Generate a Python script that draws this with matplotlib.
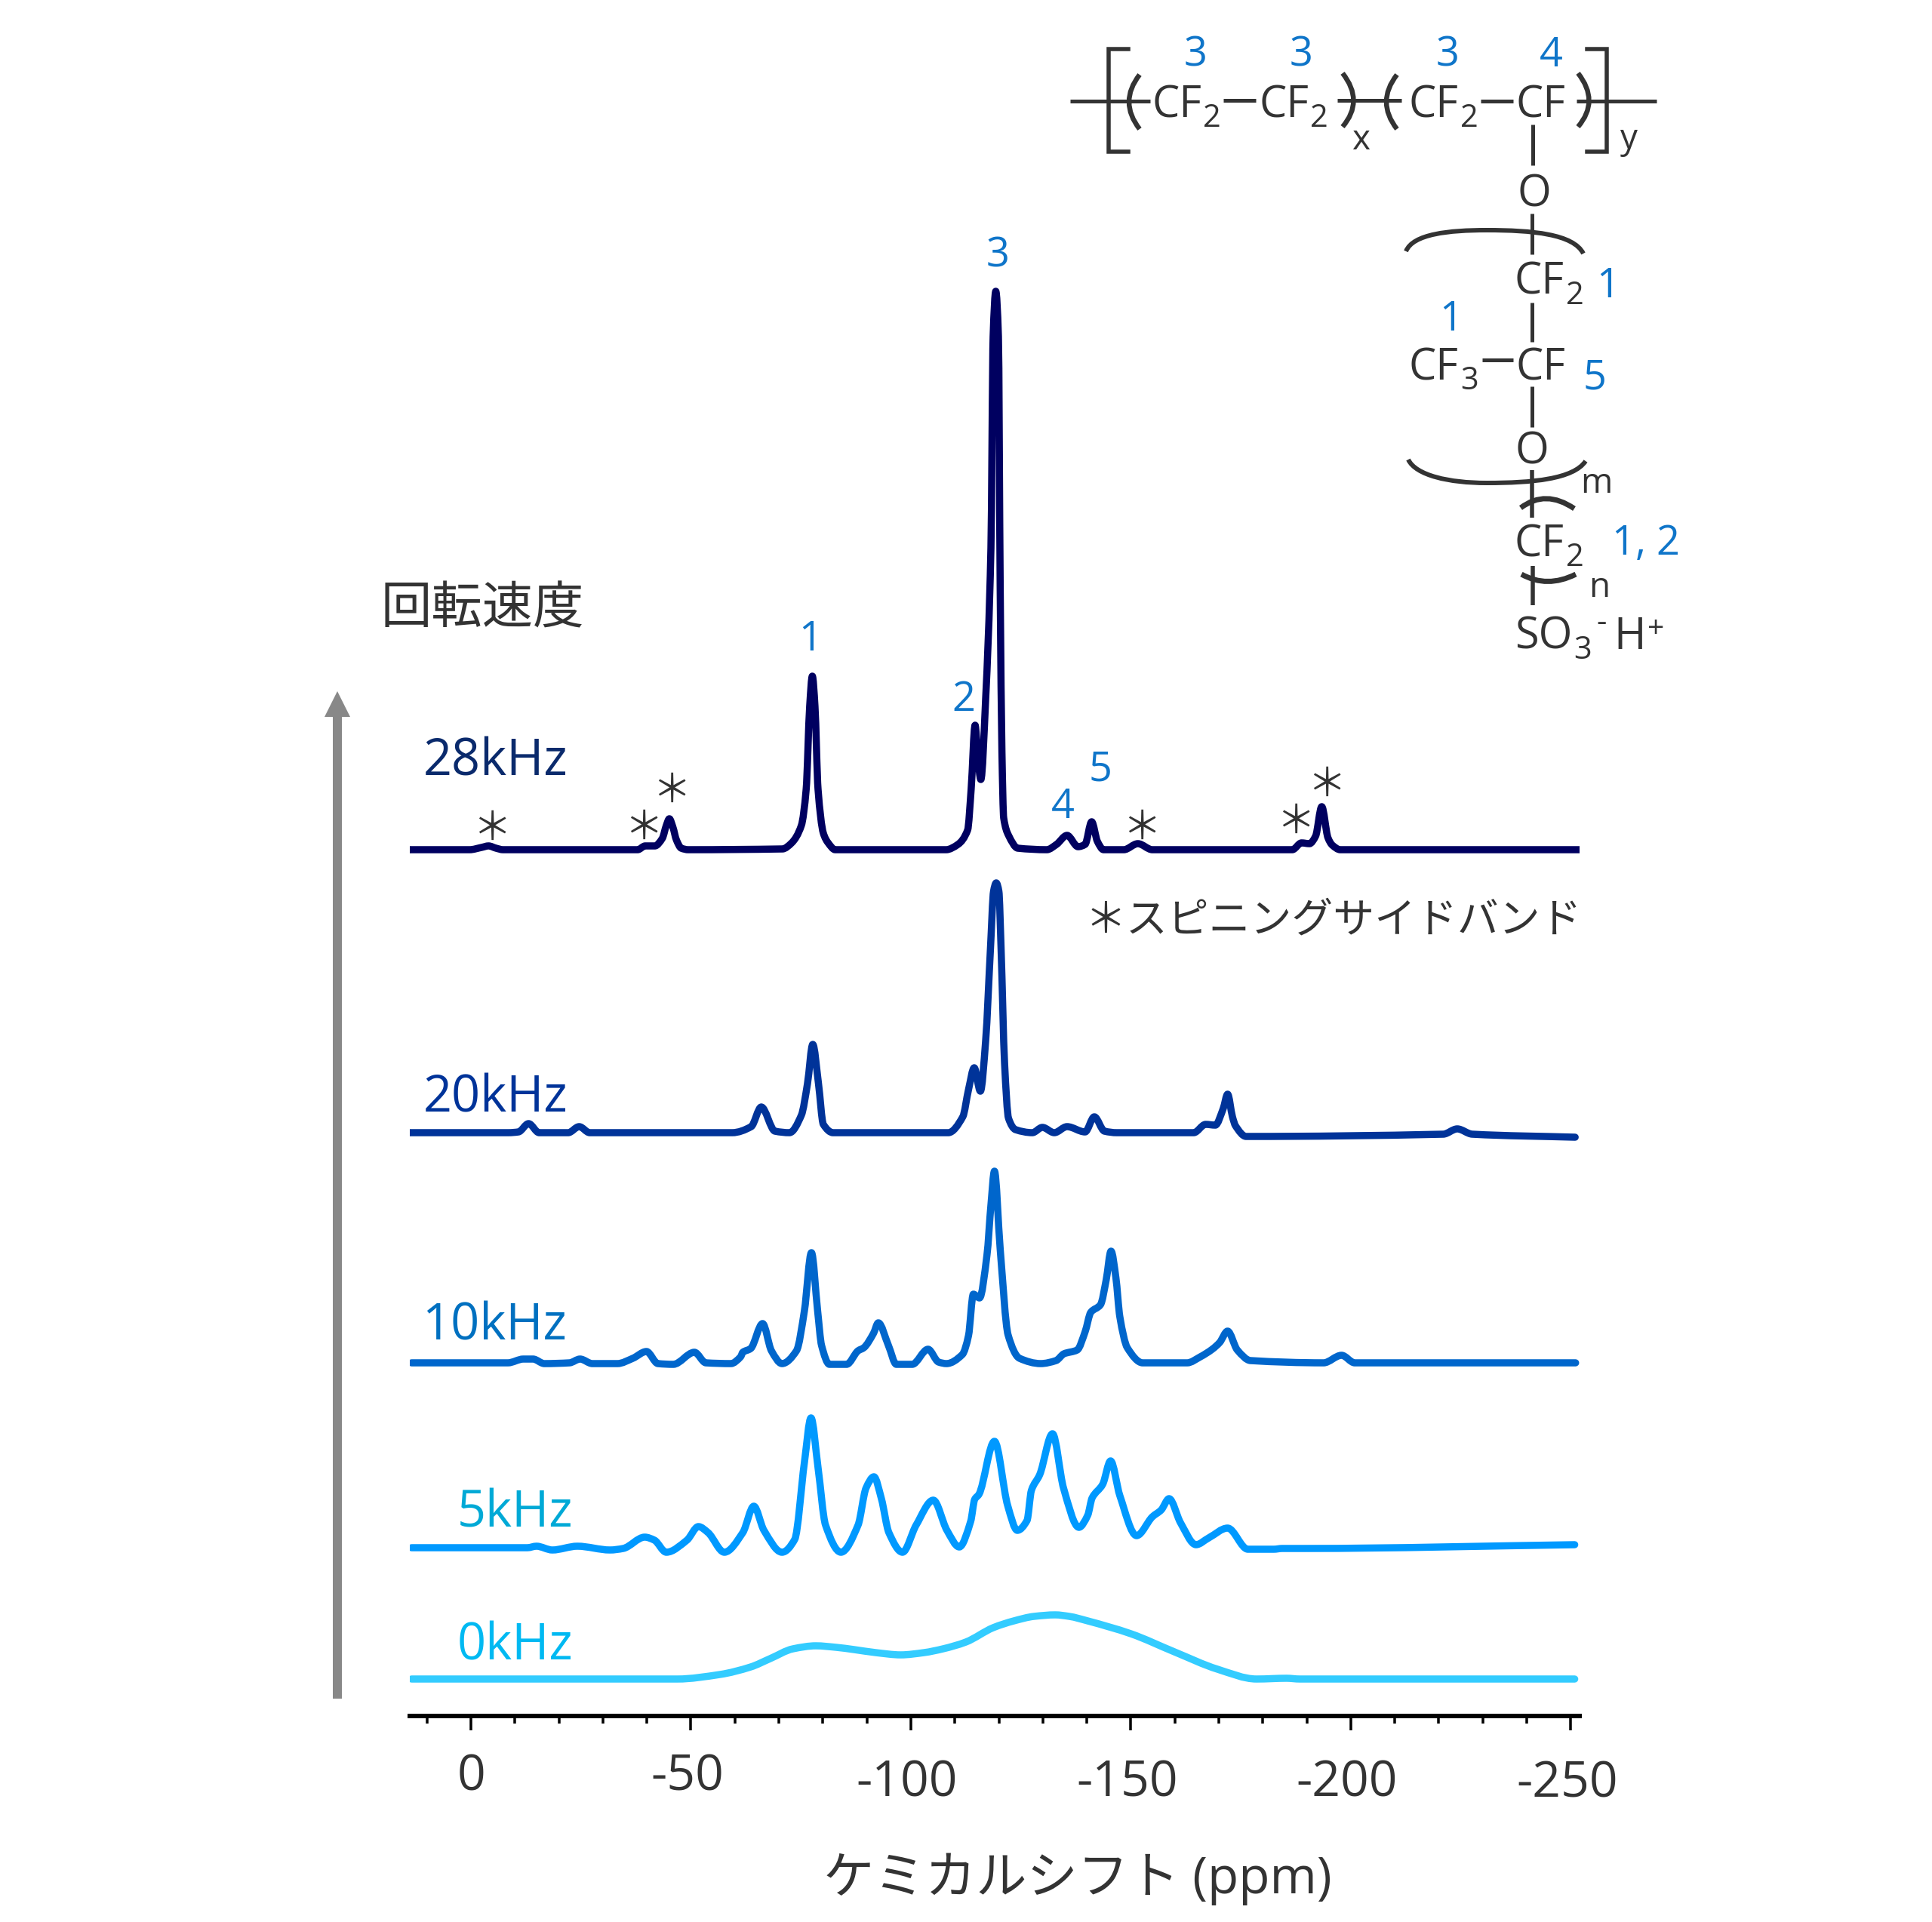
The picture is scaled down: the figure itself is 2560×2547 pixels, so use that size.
import matplotlib
matplotlib.use('Agg')
import matplotlib.pyplot as plt
from matplotlib.patches import FancyArrow, PathPatch
from matplotlib.path import Path
from matplotlib.ticker import MultipleLocator, FixedLocator
from matplotlib.transforms import Affine2D

JP = ['Open Sans', 'Noto Sans CJK JP']
plt.rcParams['font.family'] = JP

# Spectra: shift in ppm, height above each trace's own baseline
ppm_28 = [14, 0.3, -2.4, -4, -5.7, -7.3, -37.9, -39.6, -41.8, -43.5, -44.4, -45.1, -45.9, -46.7, -47.8, -49.4,
          -70.8, -72.9, -75.1, -76.2, -77, -77.6, -78.2, -78.9, -80.1, -81.2, -82.8,
          -108, -110.7, -112.9, -113.7, -114.6, -115.2, -115.9, -117, -118.2, -118.7, -119.3, -119.9, -120.3, -120.7,
          -121.1, -122.2, -124.3, -130.9, -133.1, -135.5, -138, -139.6, -141.1, -142.4, -143.8,
          -148.4, -151.6, -154.9, -186.7, -188.8, -190.6, -192, -193.4, -194.8, -195.8, -197.6, -252]
int_28 = [0, 0, 3, 5, 2, 0, 0, 5, 5, 15, 32, 41, 30, 13, 2, 0,
          1, 9, 32, 80, 190, 230, 190, 80, 22, 9, 0,
          0, 7, 26, 80, 165, 125, 93, 200, 400, 680, 740, 680, 350, 130,
          42, 19, 2, 0, 7, 19, 4, 7, 37, 11, 0,
          0, 8, 0, 0, 9, 8, 18, 57, 16, 6, 0, 0]

ppm_20 = [14, -8.5, -10.8, -13.1, -15.5, -22.1, -24.6, -27, -59.4, -63.7, -66, -69.1, -72.4, -75.1, -76.5, -77.7,
          -79, -80.1, -82.3, -108.5, -111.8, -113.1, -114.4, -115.8, -117, -118.1, -118.8, -119.4, -120, -120.5, -121.3,
          -122.2, -123.8, -127.6, -129.9, -132.6, -135.5, -139.6, -141.7, -144, -146.8, -164.3, -167, -169.2, -171,
          -172, -173.1, -173.8, -176.2, -221, -224.2, -227.6, -251]
int_20 = [0, 0, 1, 12, 0, 0, 8, 0, 0, 8, 34, 2, 0, 23, 65, 117,
          65, 11, 0, 0, 21, 57, 86, 55, 122, 245, 320, 331, 320, 245, 92,
          19, 4, 0, 7, 0, 8, 1, 21, 2, 0, 0, 11, 10, 32,
          51, 21, 9, -5, -2, 5, -2, -6]

ppm_10 = [13.5, -8.4, -11.9, -14.1, -16.7, -22.4, -24.8, -27.6, -33.3, -36.8, -39.9, -42.5, -46, -50.8, -53.4, -59.1,
          -61.3, -61.8, -63.6, -66.3, -68.3, -70.7, -74, -75.8, -77.4, -78.8, -79.7, -81.5, -85.4, -88, -89.3, -91.5,
          -92.6, -94.9, -96.7, -100.3, -103.9, -106.3, -108.1, -111.7, -113.1, -114.2, -115.6, -117.3, -118.2, -119,
          -120.3, -122.1, -124.7, -129.5, -133, -134.8, -137.8, -139.6, -140.9, -143.1, -144.4, -145.5, -146.6, -147.5,
          -149.2, -152.7, -162.8, -165.8, -168.5, -170.2, -172, -174.2, -177.2, -193.8, -197.9, -200.9, -251.1]
int_10 = [0, 0, 5, 5, -1, 0, 5, -1, -1, 6, 15, -1, -2, 14, 0, -1,
          8, 14, 19, 52, 16, -1, 16, 69, 146, 69, 23, -2, -2, 16, 20, 39,
          53, 23, -2, -2, 18, 1, -1, 11, 36, 91, 86, 143, 209, 254,
          151, 37, 6, -1, 3, 12, 17, 41, 67, 77, 110, 148, 113, 61,
          20, 0, 0, 8, 18, 27, 42, 17, 3, 0, 10, 0, 0]

ppm_5 = [13.5, -12.8, -14.9, -18.5, -24.2, -31.6, -34.6, -39.5, -41.7, -44.4, -49.1, -51.7, -53.9, -57.6, -61.8, -64.3,
         -66.6, -70.7, -73.6, -75.8, -77.3, -78.9, -80.6, -84.1, -88, -89.8, -91.6, -93.3, -95, -98.1, -101.2, -105.1,
         -108.2, -111, -113.6, -114.5, -115.5, -119, -122, -124.2, -126.4, -127.4, -129.3, -132.2, -134.7, -138.2,
         -140.2, -141.2, -143.6, -145.4, -147.5, -151.3, -154.9, -156.9, -158.7, -161.3, -164.8, -167.7, -172, -176.6,
         -182.5, -184.4, -189.4, -250.9]
int_5 = [0, 0, 2, -3, 2, -3, -1, 14, 10, -6, 10, 28, 20, -6, 20, 55,
         23, -6, 11, 113, 172, 106, 30, -6, 30, 79, 94, 65, 20, -6, 30, 63,
         23, 1, 35, 64, 71, 141, 56, 23, 36, 76, 97, 151, 79, 27,
         43, 66, 84, 115, 69, 16, 41, 50, 65, 33, 4, 13, 26, -2,
         -2, -1, -1, 4]

ppm_0 = [13.5, -46.9, -56.6, -63.6, -68, -73.2, -78.4, -83, -87.1, -92, -97.7, -103, -107.3, -112.5, -118.7, -123.4,
         -128, -132.8, -136, -140.2, -150, -159.9, -169.7, -178.6, -185.4, -188.4, -250.9]
int_0 = [0, 0, 6, 16, 27, 40, 44, 42, 39, 35, 32, 35, 40, 49, 68, 77,
         83, 85, 83, 77, 60, 36, 13, 0, 1, 0, 0]

speeds = ['28kHz', '20kHz', '10kHz', '5kHz', '0kHz']
major_ticks = [0, -50, -100, -150, -200, -250]

# Layout is in reference pixels
W, H = 2560, 2547
AX_LEFT, AX_RIGHT, AX_BOTTOM = 543, 2093, 2274
XMIN, XMAX = 13.9, -252
offsets = [1148, 773, 468, 223, 49]
line_cols = ['#000060', '#003399', '#0066CC', '#0099FF', '#33CCFF']
text_cols = ['#0A2A6C', '#003399', '#0070C0', '#00A9D6', '#00B9F2']
label_pos = [(561, 1027), (561, 1473), (559, 1775), (606, 2023), (606, 2199)]
INK = '#333333'
BLUE = '#0F75C9'
PX = 0.72  # points per pixel at dpi 100


def slopes(xs, ys):
    # monotone tangents so the curve does not overshoot the read values
    n = len(xs)
    d = [(ys[i + 1] - ys[i]) / (xs[i + 1] - xs[i]) for i in range(n - 1)]
    m = [d[0]] + [0.0] * (n - 2) + [d[-1]]
    for i in range(1, n - 1):
        if d[i - 1] * d[i] > 0:
            m[i] = 2 * d[i - 1] * d[i] / (d[i - 1] + d[i])
    return m


def spectrum_path(xs, ys):
    m = slopes(xs, ys)
    verts = [(xs[0], ys[0])]
    codes = [Path.MOVETO]
    for i in range(len(xs) - 1):
        h = (xs[i + 1] - xs[i]) / 3
        verts += [(xs[i] + h, ys[i] + m[i] * h), (xs[i + 1] - h, ys[i + 1] - m[i + 1] * h), (xs[i + 1], ys[i + 1])]
        codes += [Path.CURVE4] * 3
    return Path(verts, codes)


fig = plt.figure(figsize=(W / 100, H / 100), dpi=100)
ax = fig.add_axes([AX_LEFT / W, (H - AX_BOTTOM) / H, (AX_RIGHT - AX_LEFT) / W, AX_BOTTOM / H])
ax.patch.set_alpha(0)
ax.set_xlim(XMIN, XMAX)
ax.set_ylim(0, AX_BOTTOM)

traces = [(ppm_28, int_28), (ppm_20, int_20), (ppm_10, int_10), (ppm_5, int_5), (ppm_0, int_0)]
for (xs, ys), off, col in zip(traces, offsets, line_cols):
    ax.add_patch(PathPatch(spectrum_path(xs, [v + off for v in ys]), fill=False, edgecolor=col,
                           lw=9.5 * PX, capstyle='round', joinstyle='round'))

for name in ['top', 'left', 'right']:
    ax.spines[name].set_visible(False)
ax.spines['bottom'].set_linewidth(6 * PX)
ax.spines['bottom'].set_color('black')
ax.set_yticks([])
ax.xaxis.set_major_locator(FixedLocator(major_ticks))
ax.xaxis.set_minor_locator(MultipleLocator(10))
ax.tick_params(axis='x', which='major', length=19 * PX, width=3.5 * PX, color='black',
               labelsize=47.5, labelcolor=INK)
ax.tick_params(axis='x', which='minor', length=10 * PX, width=3.5 * PX, color='black')
ax.set_xticklabels([str(t) for t in major_ticks])
for tick, pad, shift in zip(ax.xaxis.get_major_ticks(), [21, 21, 27, 27, 27, 28], [0, -5, -5, -5, -5, -5]):
    tick.set_pad(pad)
    tick.label1.set_transform(tick.label1.get_transform() + Affine2D().translate(shift, 0))

# Overlay in pixel coordinates for the labels and the structure drawing
ov = fig.add_axes([0, 0, 1, 1])
ov.set_xlim(0, W)
ov.set_ylim(H, 0)
ov.axis('off')
ov.patch.set_alpha(0)


def tx(x, y, s, size=41.5, color=INK, ha='left', va='baseline'):
    ov.text(x, y, s, fontsize=size, color=color, ha=ha, va=va, family=JP)


def bond(x0, y0, x1, y1, lw=5):
    ov.plot([x0, x1], [y0, y1], color=INK, lw=lw * PX, solid_capstyle='butt')


def curve(pts, lw=6):
    # 3 points: quadratic, 7 points: two cubics
    if len(pts) == 3:
        codes = [Path.MOVETO, Path.CURVE3, Path.CURVE3]
    else:
        codes = [Path.MOVETO] + [Path.CURVE4] * (len(pts) - 1)
    ov.add_patch(PathPatch(Path(pts, codes), fill=False, edgecolor=INK, lw=lw * PX))


for s, (x, y), col in zip(speeds, label_pos, text_cols):
    tx(x, y, s, size=48, color=col)

ov.add_patch(FancyArrow(447, 2251, 0, -1335, width=12, head_width=34, head_length=34,
                        length_includes_head=True, color='#888888', lw=0))
tx(505, 809, '回転速度', size=48.5, va='center')
tx(1428, 2490, 'ケミカルシフト (ppm)', size=48.5, ha='center', va='center')
tx(2096, 1221, '＊スピニングサイドバンド', size=39.5, ha='right', va='center')

# Peak assignment numbers and sideband stars
for s, x, y in [('3', 1322, 339), ('1', 1074, 848), ('2', 1277, 927), ('4', 1408, 1069), ('5', 1458, 1020)]:
    tx(x, y, s, size=39, color=BLUE, ha='center', va='center')
for x, y in [(652, 1099), (853, 1098), (890, 1049), (1513, 1098), (1717, 1090), (1758, 1041)]:
    tx(x, y, '＊', size=37, ha='center', va='center')

# Structure: main chain
bond(1418, 134, 1524, 134)
bond(1621, 133, 1664, 133)
bond(1772, 133, 1857, 133)
bond(1962, 134, 2005, 134)
bond(2089, 134, 2195, 134)
ov.plot([1495, 1469, 1469, 1495], [65, 65, 201, 201], color=INK, lw=5.5 * PX, solid_joinstyle='miter')
ov.plot([2103, 2129, 2129, 2103], [65, 65, 201, 201], color=INK, lw=5.5 * PX, solid_joinstyle='miter')
curve([(1510, 99), (1482, 135), (1510, 171)], lw=6.5)
curve([(1779, 97), (1808, 134), (1779, 168)], lw=6.5)
curve([(1851, 99), (1823, 135), (1851, 171)], lw=6.5)
curve([(2091, 97), (2120, 134), (2091, 168)], lw=6.5)

for x in [1526, 1668, 1867]:
    tx(x, 155, 'CF')
    tx(x + 68, 168, '2', size=30)
tx(2009, 155, 'CF')
tx(1791, 198, 'x', size=33)
tx(2147, 197, 'y', size=33)
for s, x, y in [('3', 1584, 73), ('3', 1724, 73), ('3', 1918, 73), ('4', 2055, 73),
                ('1', 2131, 379), ('1', 1923, 423), ('5', 2113, 501), ('1, 2', 2136, 721)]:
    tx(x, y, s, size=39, color=BLUE, ha='left' if s == '1, 2' else 'center', va='center')

# Structure: side chain
bond(2031, 165, 2031, 219)
tx(2033, 258, 'O', ha='center', va='center')
bond(2030, 283, 2030, 337)
curve([(1863, 333), (1872, 310), (1920, 305), (1970, 305), (2030, 305), (2085, 310), (2098, 336)])
tx(2007, 390, 'CF')
tx(2075, 403, '2', size=30)
bond(2030, 401, 2030, 453)
tx(1867, 503, 'CF')
tx(1935, 516, '3', size=30)
bond(1964, 477, 2005, 477)
tx(2009, 503, 'CF')
bond(2030, 512, 2030, 566)
tx(2030, 599, 'O', ha='center', va='center')
curve([(1866, 609), (1876, 630), (1920, 640), (1970, 640), (2030, 640), (2085, 635), (2101, 611)])
tx(2094, 653, 'm', size=33)
bond(2030, 623, 2030, 686, lw=5.5)
curve([(2015, 673), (2048, 648), (2086, 674)], lw=7)
tx(2007, 737, 'CF')
tx(2075, 750, '2', size=30)
bond(2031, 750, 2031, 802, lw=5.5)
curve([(2016, 761), (2050, 780), (2088, 761)], lw=7)
tx(2105, 791, 'n', size=33)
tx(2007, 860, 'SO')
tx(2085, 873, '3', size=30)
tx(2115, 837, '-', size=30)
tx(2138, 860, 'H')
tx(2183, 844, '+', size=28)

fig.savefig('out.png', dpi=100)
